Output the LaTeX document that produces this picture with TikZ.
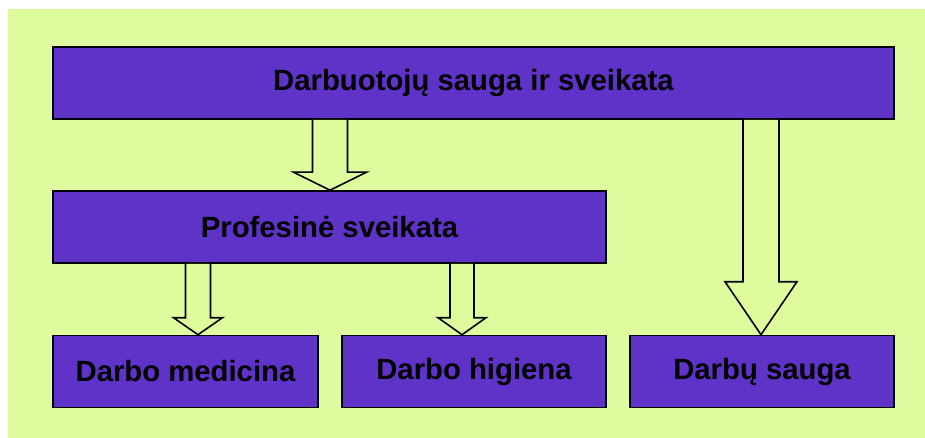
\documentclass[tikz,border=0pt]{standalone}
\usepackage{fontspec}
\setmainfont{Liberation Sans}
\usepackage{tikz}
\usetikzlibrary{arrows.meta,positioning,calc}
\definecolor{bggreen}{RGB}{222,252,158}
\definecolor{boxviolet}{RGB}{95,50,200}

% hollow block arrow: x, from node, to node, shaft half width, head half width, head length
\newcommand{\blockarrow}[6]{%
  \draw[arrowline] let \p1=(#2.south), \p2=(#3.north) in
    (#1pt-#4pt,\y1) -- (#1pt-#4pt,\y2+#6pt) -- (#1pt-#5pt,\y2+#6pt) -- (#1pt,\y2)
    -- (#1pt+#5pt,\y2+#6pt) -- (#1pt+#4pt,\y2+#6pt) -- (#1pt+#4pt,\y1);}

\begin{document}
\begin{tikzpicture}[x=1pt,y=-1pt]
  \tikzstyle{box}=[draw=black,line width=1.6pt,fill=boxviolet,minimum height=72pt,inner sep=0pt,
                   font=\fontsize{29.3}{35}\selectfont\bfseries]
  \tikzstyle{arrowline}=[draw=black,line width=1.6pt,line join=miter,fill=bggreen]

  \useasboundingbox (0,0) rectangle (925,438);
  \fill[bggreen] (8,9) rectangle (925,438);

  \node[box,minimum width=841pt] (top) at (473.5,83) {Darbuotojų sauga ir sveikata};
  \node[box,minimum width=553pt] (prof) at (329.5,227) {Profesinė sveikata};
  \node[box,minimum width=265pt] (med) at (185.5,371.5) {Darbo medicina};
  \node[box,minimum width=264pt] (hig) at (474,371.5) {Darbo higiena};
  \node[box,minimum width=264pt] (sauga) at (762,371.5) {Darbų sauga};

  \foreach \ax/\from/\to/\sh/\hh/\hl in {330/top/prof/17.5/36.5/18, 761/top/sauga/18/36/53,
                                          198/prof/med/12.5/24.5/17, 462/prof/hig/12/24/17}
    { \blockarrow{\ax}{\from}{\to}{\sh}{\hh}{\hl} }
\end{tikzpicture}
\end{document}
